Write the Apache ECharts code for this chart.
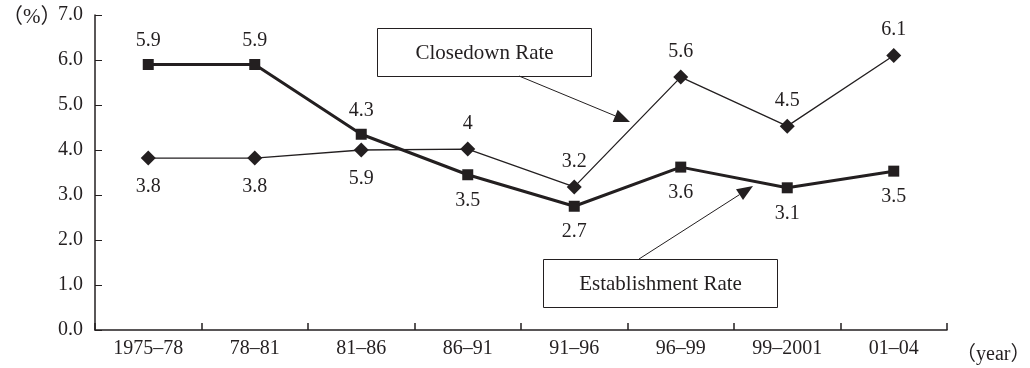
<!DOCTYPE html>
<html>
<head>
<meta charset="utf-8">
<script src="https://cdn.jsdelivr.net/npm/echarts@6/dist/echarts.min.js"></script>
<style>
html,body{margin:0;padding:0;background:#fff;}
#c{width:1030px;height:368px;}
</style>
</head>
<body>
<div id="c"></div>
<script>
var categories = ['1975–78', '78–81', '81–86', '86–91', '91–96', '96–99', '99–2001', '01–04'];
var yTicks = [0, 1, 2, 3, 4, 5, 6, 7];

var establishmentValues = [5.9, 5.9, 4.35, 3.45, 2.75, 3.62, 3.16, 3.53];
var establishmentLabels = ['5.9', '5.9', '4.3', '3.5', '2.7', '3.6', '3.1', '3.5'];
var establishmentLabelPos = ['top', 'top', 'top', 'bottom', 'bottom', 'bottom', 'bottom', 'bottom'];

var closedownValues = [3.82, 3.82, 4.0, 4.02, 3.18, 5.62, 4.53, 6.1];
var closedownLabels = ['3.8', '3.8', '5.9', '4', '3.2', '5.6', '4.5', '6.1'];
var closedownLabelPos = ['bottom', 'bottom', 'bottom', 'top', 'top', 'top', 'top', 'top'];

var FONT = '"Liberation Serif", "Noto Sans CJK JP"';
var FS = 20;
var INK = '#231f20';

function buildData(vals, labels, pos, dTop, dBottom) {
  return vals.map(function (v, i) {
    return {
      value: v,
      label: { position: pos[i], formatter: labels[i], distance: pos[i] === 'top' ? dTop : dBottom }
    };
  });
}

function arrow(x1, y1, x2, y2) {
  var dx = x2 - x1, dy = y2 - y1;
  var len = Math.sqrt(dx * dx + dy * dy);
  var ux = dx / len, uy = dy / len;
  var hl = 16, hw = 6.5;
  var bx = x2 - ux * hl, by = y2 - uy * hl;
  return [
    { type: 'line', shape: { x1: x1, y1: y1, x2: bx, y2: by }, style: { stroke: INK, lineWidth: 1 } },
    { type: 'polygon', shape: { points: [[x2, y2], [bx - uy * hw, by + ux * hw], [bx + uy * hw, by - ux * hw]] }, style: { fill: INK } }
  ];
}

var chart = echarts.init(document.getElementById('c'), null, { renderer: 'canvas' });

var graphics = [
  { type: 'text', x: 2, y: 17, style: { text: '（%）', font: '21px ' + FONT, fill: INK, verticalAlign: 'middle' } },
  { type: 'text', x: 956, y: 355, style: { text: '（year）', font: FS + 'px ' + FONT, fill: INK, verticalAlign: 'middle' } },
  { type: 'rect', shape: { x: 377.5, y: 28.5, width: 214, height: 48 }, style: { fill: '#fff', stroke: INK, lineWidth: 1 } },
  { type: 'text', x: 484.5, y: 53, style: { text: 'Closedown Rate', font: '21px ' + FONT, fill: INK, align: 'center', verticalAlign: 'middle' } },
  { type: 'rect', shape: { x: 543.5, y: 259.5, width: 234, height: 48 }, style: { fill: '#fff', stroke: INK, lineWidth: 1 } },
  { type: 'text', x: 660.5, y: 284, style: { text: 'Establishment Rate', font: '21px ' + FONT, fill: INK, align: 'center', verticalAlign: 'middle' } }
].concat(arrow(519, 76, 630, 122)).concat(arrow(639, 259, 753, 186));

chart.setOption({
  animation: false,
  backgroundColor: '#fff',
  textStyle: { fontFamily: FONT },
  grid: { left: 95, right: 83, top: 15, bottom: 38, containLabel: false },
  xAxis: {
    type: 'category',
    data: categories,
    boundaryGap: true,
    axisLine: { lineStyle: { color: INK, width: 1.5 } },
    axisTick: { show: true, inside: true, length: 7, alignWithLabel: false, lineStyle: { color: INK, width: 1.5 } },
    axisLabel: { color: INK, fontSize: FS, fontFamily: FONT, margin: 9, interval: 0 },
    splitLine: { show: false }
  },
  yAxis: {
    type: 'value',
    min: yTicks[0],
    max: yTicks[yTicks.length - 1],
    interval: 1,
    axisLine: { show: true, lineStyle: { color: INK, width: 1.5 } },
    axisTick: { show: true, inside: true, length: 7, lineStyle: { color: INK, width: 1 } },
    axisLabel: { color: INK, fontSize: FS, fontFamily: FONT, margin: 12, formatter: function (v) { return v.toFixed(1); } },
    splitLine: { show: false }
  },
  series: [
    {
      name: 'Closedown Rate',
      type: 'line',
      data: buildData(closedownValues, closedownLabels, closedownLabelPos, 8, 11),
      symbol: 'diamond',
      symbolSize: 15,
      lineStyle: { color: INK, width: 1.3 },
      itemStyle: { color: INK },
      label: { show: true, color: INK, fontSize: FS, fontFamily: FONT },
      z: 3
    },
    {
      name: 'Establishment Rate',
      type: 'line',
      data: buildData(establishmentValues, establishmentLabels, establishmentLabelPos, 8, 10),
      symbol: 'rect',
      symbolSize: 11,
      lineStyle: { color: INK, width: 3 },
      itemStyle: { color: INK },
      label: { show: true, color: INK, fontSize: FS, fontFamily: FONT },
      z: 4
    }
  ],
  graphic: graphics
});
</script>
</body>
</html>
